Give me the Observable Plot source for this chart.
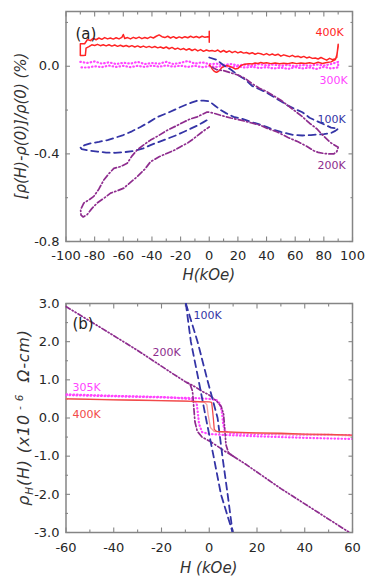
<!DOCTYPE html>
<html><head><meta charset="utf-8">
<script src="https://cdn.jsdelivr.net/npm/d3@7"></script>
<script src="https://cdn.jsdelivr.net/npm/@observablehq/plot@0.6"></script>
<style>
body{margin:0;background:#fff;}
#chart{width:374px;}
#chart svg{display:block;}
</style></head><body><div id="chart"></div>
<script>
// ---------- Panel (a): magnetoresistance [rho(H)-rho(0)]/rho(0) (%) vs H (kOe) ----------
const mr400K = [[0,0.005],[1,0.0],[2,-0.012],[3,-0.02],[4,-0.025],[5,-0.027],[6,-0.025],[7,-0.02],[8,-0.012],[9,-0.005],[10,-0.002],[12,0.003],[14,0.0],[16,-0.005],[18,-0.012],[20,-0.01],[22,0.003],[24,0.008],[26,0.01],[28,0.012],[30,0.01],[32,0.015],[34,0.013],[36,0.017],[38,0.014],[40,0.016],[43,0.012],[46,0.015],[49,0.011],[52,0.014],[55,0.012],[58,0.016],[61,0.012],[64,0.015],[67,0.013],[70,0.016],[73,0.012],[76,0.018],[79,0.013],[82,0.017],[85,0.02],[88,0.03],[89,0.05],[90,0.09],[90,0.1],[89.5,0.07],[89,0.04],
  [88,0.035],[86,0.03],[84,0.036],[82,0.028],[80,0.034],[78,0.04],[76,0.033],[74,0.038],[72,0.036],[70,0.042],[68,0.038],[66,0.045],[64,0.04],[62,0.046],[60,0.043],[58,0.05],[56,0.044],[54,0.048],[52,0.052],[50,0.046],[48,0.055],[46,0.05],[44,0.056],[42,0.051],[40,0.058],[38,0.052],[36,0.057],[34,0.06],[32,0.055],[30,0.062],[28,0.057],[26,0.063],[24,0.06],[22,0.066],[20,0.061],[18,0.068],[16,0.062],[14,0.07],[12,0.064],[10,0.072],[8,0.065],[6,0.074],[4,0.068],[2,0.072],[0,0.07],
  [-2,0.074],[-4,0.068],[-6,0.076],[-8,0.07],[-10,0.078],[-12,0.072],[-14,0.08],[-16,0.074],[-18,0.081],[-20,0.076],[-22,0.083],[-24,0.078],[-26,0.086],[-28,0.08],[-30,0.088],[-32,0.082],[-34,0.088],[-36,0.084],[-38,0.09],[-40,0.085],[-42,0.091],[-44,0.086],[-46,0.092],[-48,0.087],[-50,0.093],[-52,0.088],[-54,0.094],[-56,0.089],[-58,0.095],[-60,0.09],[-62,0.096],[-64,0.091],[-66,0.097],[-68,0.092],[-70,0.098],[-72,0.093],[-74,0.098],[-76,0.094],[-78,0.1],[-80,0.095],[-82,0.098],[-84,0.09],[-86,0.083],[-86.5,0.05],[-88,0.049],[-90,0.049],[-90,0.103],[-87,0.103],
  [-85,0.122],[-83,0.117],[-81,0.127],[-79,0.121],[-77,0.129],[-75,0.123],[-73,0.131],[-71,0.125],[-69,0.129],[-67,0.124],[-65,0.13],[-63,0.125],[-61,0.132],[-60,0.145],[-59,0.127],[-57,0.131],[-55,0.125],[-53,0.132],[-51,0.127],[-49,0.133],[-47,0.126],[-45,0.131],[-43,0.127],[-41,0.134],[-39,0.129],[-37,0.137],[-35,0.143],[-33,0.135],[-31,0.131],[-29,0.137],[-27,0.129],[-25,0.135],[-23,0.128],[-21,0.134],[-19,0.129],[-17,0.135],[-15,0.13],[-13,0.137],[-11,0.131],[-9,0.136],[-7,0.13],[-5,0.137],[-3,0.132],[-1,0.135],[0,0.132],[0,0.16],[0,0.11]];
const mr300K = [[-90,0.02],[-85,0.015],[-80,0.022],[-75,0.012],[-70,0.018],[-65,0.01],[-60,0.016],[-55,0.012],[-50,0.02],[-45,0.01],[-40,0.015],[-35,0.012],[-30,0.02],[-25,0.01],[-20,0.016],[-15,0.024],[-10,0.012],[-5,0.018],[0,0.01],[5,0.012],[10,0.006],[15,0.01],[20,0.004],[25,0.008],[30,0.003],[35,0.01],[40,0.004],[45,0.008],[50,0.002],[55,0.006],[60,0.0],[65,0.006],[70,0.002],[75,0.008],[80,0.003],[85,0.01],[90,0.02],
  [90,-0.005],[85,-0.01],[80,-0.003],[75,-0.012],[70,-0.006],[65,-0.01],[60,-0.004],[55,-0.012],[50,-0.006],[45,-0.01],[40,-0.004],[35,-0.008],[30,-0.002],[25,-0.006],[20,0.0],[15,-0.004],[10,0.002],[5,-0.003],[0,0.0],[-5,-0.004],[-10,0.002],[-15,-0.003],[-20,0.003],[-25,-0.002],[-30,0.004],[-35,-0.002],[-40,0.003],[-45,-0.003],[-50,0.002],[-55,-0.004],[-60,0.002],[-65,-0.003],[-70,0.003],[-75,-0.004],[-80,0.0],[-85,-0.006],[-90,-0.005]];
const mr100K = [[0,0.04],[5,0.03],[10,0.005],[15,-0.015],[20,-0.04],[25,-0.06],[30,-0.09],[35,-0.105],[40,-0.12],[45,-0.14],[50,-0.16],[55,-0.18],[60,-0.195],[65,-0.21],[70,-0.235],[75,-0.25],[80,-0.265],[85,-0.28],[90,-0.285],
  [88,-0.295],[85,-0.305],[80,-0.31],[71,-0.314],[65,-0.316],[59,-0.314],[50,-0.3],[45,-0.29],[40,-0.277],[35,-0.265],[29,-0.254],[23,-0.24],[17,-0.231],[12,-0.215],[8,-0.2],[4,-0.18],[0,-0.16],[-4,-0.157],[-8,-0.156],[-12,-0.165],[-16,-0.175],[-20,-0.186],[-28,-0.21],[-36,-0.231],[-42,-0.255],[-48,-0.277],[-54,-0.297],[-60,-0.314],[-66,-0.327],[-71,-0.337],[-77,-0.345],[-83,-0.352],[-87,-0.36],[-90,-0.37],
  [-89,-0.378],[-84,-0.385],[-78,-0.39],[-72,-0.394],[-66,-0.395],[-59,-0.392],[-52,-0.386],[-46,-0.375],[-41,-0.36],[-35,-0.345],[-29,-0.33],[-23,-0.315],[-18,-0.3],[-13,-0.285],[-8,-0.27],[-4,-0.255],[0,-0.24]];
const mr200K = [[2,-0.005],[5,-0.015],[10,-0.02],[15,-0.03],[20,-0.04],[25,-0.055],[30,-0.08],[35,-0.1],[40,-0.115],[45,-0.135],[50,-0.155],[55,-0.18],[60,-0.205],[65,-0.23],[70,-0.26],[75,-0.285],[80,-0.32],[85,-0.35],[90,-0.37],[89,-0.39],[87,-0.4],[83,-0.4],[80,-0.398],[76,-0.393],[73,-0.386],[68,-0.365],[62,-0.345],[55,-0.325],[47.5,-0.3],[41,-0.285],[36,-0.27],[29,-0.258],[22,-0.246],[15,-0.236],[8,-0.224],[3,-0.214],[0,-0.21],[-1.5,-0.209],[-5,-0.22],[-8.4,-0.231],[-13,-0.24],[-17.7,-0.254],[-23,-0.272],[-29.3,-0.292],[-35,-0.315],[-41,-0.337],[-46,-0.36],[-50.3,-0.382],[-54,-0.41],[-57.3,-0.443],[-61.9,-0.458],[-66.6,-0.466],[-70,-0.49],[-73.6,-0.519],[-77,-0.56],[-80.6,-0.594],[-84,-0.61],[-87.5,-0.624],[-89.8,-0.655],[-89.5,-0.68],[-88,-0.688],[-85.2,-0.677],[-82,-0.65],[-78.2,-0.624],[-73,-0.6],[-68.9,-0.579],[-64,-0.568],[-59.6,-0.556],[-55,-0.53],[-50.3,-0.504],[-45,-0.47],[-41,-0.436],[-35,-0.413],[-29.3,-0.397],[-24,-0.382],[-20,-0.367],[-15,-0.35],[-10.8,-0.33],[-5,-0.3],[0,-0.277]];
const labelsA = ["400K", "300K", "100K", "200K"];
const ticksAxMajor = [-100,-80,-60,-40,-20,0,20,40,60,80,100];
const ticksAxMinor = [-90,-70,-50,-30,-10,10,30,50,70,90];
const ticksAyMajor = [-0.8,-0.4,0.0];
const ticksAyMinor = [-0.6,-0.2,0.2];

// ---------- Panel (b): Hall resistivity rho_H (x10^-6 Ohm-cm) vs H (kOe) ----------
const hall400Kup = [[-60,0.5],[-50,0.49],[-40,0.475],[-30,0.465],[-20,0.455],[-10,0.44],[-4,0.43],[0,0.42],[1,0.41],[1.3,0.25],[1.7,0.0],[2.1,-0.3],[3,-0.35],[10,-0.37],[20,-0.39],[30,-0.4],[40,-0.42],[50,-0.43],[60,-0.45]];
const hall400Kdown = [[60,-0.46],[45,-0.44],[30,-0.42],[15,-0.39],[5,-0.37],[2,-0.35],[0.5,-0.25],[-0.5,0.1],[-1,0.35],[-2,0.41],[-10,0.44],[-30,0.47],[-60,0.51]];
const hall305Kup = [[-60,0.6],[-40,0.57],[-20,0.54],[-5,0.52],[0,0.5],[3,0.47],[4.5,0.38],[5.3,0.15],[5.8,-0.15],[6.5,-0.33],[8,-0.39],[12,-0.41],[30,-0.43],[60,-0.45]];
const hall305Kdown = [[60,-0.55],[40,-0.52],[20,-0.48],[5,-0.44],[0,-0.42],[-3,-0.37],[-4.3,-0.15],[-4.8,0.15],[-5.3,0.4],[-8,0.5],[-20,0.55],[-40,0.58],[-60,0.62]];
const hall200Kdown = [[10,-1.0],[6,-0.85],[3,-0.72],[0,-0.6],[-3,-0.5],[-5,-0.35],[-6,-0.1],[-6.5,0.3],[-7,0.7],[-8,0.88],[-10,0.95]];
const hall200Kup = [[-60,2.92],[-45,2.35],[-30,1.77],[-15,1.15],[-10,0.95],[-6,0.82],[-3,0.7],[0,0.6],[3,0.45],[5,0.3],[6,0.1],[6.5,-0.3],[7,-0.7],[8,-0.9],[10,-1.0],[15,-1.2],[30,-1.85],[45,-2.45],[60,-3.05]];
const hall100KL = [[-9.8,3.0],[-7.7,2.0],[-4.5,1.0],[-1.4,0.0],[1.8,-1.0],[4.9,-2.0],[9.8,-3.0]];
const hall100KR = [[-9.8,3.0],[-4.9,2.0],[-0.8,1.0],[3.5,0.0],[5.5,-1.0],[7.7,-2.0],[9.8,-3.0]];
const labelsB = ["100K", "200K", "305K", "400K"];
const ticksBxMajor = [-60,-40,-20,0,20,40,60];
const ticksBxMinor = [-50,-30,-10,10,30,50];
const ticksByMajor = [-3,-2,-1,0,1,2,3];
const ticksByMinor = [-2.5,-1.5,-0.5,0.5,1.5,2.5];

// ---------- helpers ----------
const rows = a => a.map(([H, v]) => ({H, v}));
const ink = "#262626", frameCol = "#858585";
const font = "'DejaVu Sans', sans-serif";
const fmt1 = d => d.toFixed(1);
const fmt0 = d => String(d);

function frameMarks({xMajor, xMinor, yMajor, yMinor, xFmt, yFmt, xPad}) {
  const tk = (axis, data, anchor, size) => axis(data, {anchor, tickSize: size, stroke: frameCol, strokeWidth: 1.1, fill: "none", label: null});
  return [
    ...["bottom","top"].flatMap(a => [tk(Plot.axisX, xMajor, a, -4.5), tk(Plot.axisX, xMinor, a, -2.5)]),
    ...["left","right"].flatMap(a => [tk(Plot.axisY, yMajor, a, -4.5), tk(Plot.axisY, yMinor, a, -2.5)]),
    Plot.frame({stroke: frameCol, strokeWidth: 1.5}),
    Plot.axisX(xMajor, {anchor: "bottom", tickSize: 0, tickPadding: xPad, tickFormat: xFmt, label: null, fill: ink, fontSize: 13}),
    Plot.axisY(yMajor, {anchor: "left", tickSize: 0, tickPadding: 6.5, tickFormat: yFmt, label: null, fill: ink, fontSize: 13})
  ];
}
const lbl = (t, fill, frameAnchor, dx, dy, textAnchor, size) =>
  Plot.text([t], {frameAnchor, dx, dy, textAnchor, lineAnchor: "bottom", fill, fontSize: size, fontFamily: font});

const red = "#ff2424", mag = "#ff45ff", blue = "#3434a6", purple = "#8e2c8e";
const dotted = {strokeDasharray: "0.5,3", strokeLinecap: "round", strokeWidth: 2.2};
const dashed = {strokeDasharray: "7,4.5", strokeWidth: 1.8};
const dashdot = {strokeDasharray: "6,2.5,1.2,2.5", strokeWidth: 1.7};

// ---------- panel (a) ----------
const svgA = Plot.plot({
  width: 374, height: 292, marginLeft: 65.5, marginRight: 22, marginTop: 11, marginBottom: 51,
  x: {domain: [-100, 100], axis: null},
  y: {domain: [-0.8, 0.25], axis: null},
  style: {fontFamily: font, fontSize: "13px", background: "white", overflow: "visible"},
  marks: [
    ...frameMarks({xMajor: ticksAxMajor, xMinor: ticksAxMinor, yMajor: ticksAyMajor, yMinor: ticksAyMinor, xFmt: fmt0, yFmt: fmt1, xPad: 9.5}),
    Plot.line(rows(mr300K), {x: "H", y: "v", stroke: mag, ...dotted}),
    Plot.line(rows(mr400K), {x: "H", y: "v", stroke: red, strokeWidth: 1.5}),
    Plot.line(rows(mr100K), {x: "H", y: "v", stroke: blue, ...dashed}),
    Plot.line(rows(mr200K), {x: "H", y: "v", stroke: purple, ...dashdot}),
    lbl("(a)", "#222", "top-left", 9.5, 27, "start", 15),
    lbl(labelsA[0], red, "top-right", -23, 24, "middle", 11),
    lbl(labelsA[1], mag, "top-right", -19, 72, "middle", 11),
    lbl(labelsA[2], blue, "top-right", -21, 111, "middle", 11),
    lbl(labelsA[3], purple, "top-right", -21, 157, "middle", 11)
  ]
});

// ---------- panel (b) ----------
const svgB = Plot.plot({
  width: 374, height: 290, marginLeft: 65.5, marginRight: 22, marginTop: 11, marginBottom: 50,
  x: {domain: [-60, 60], axis: null},
  y: {domain: [-3, 3], axis: null},
  style: {fontFamily: font, fontSize: "13px", background: "white", overflow: "visible"},
  marks: [
    ...frameMarks({xMajor: ticksBxMajor, xMinor: ticksBxMinor, yMajor: ticksByMajor, yMinor: ticksByMinor, xFmt: fmt0, yFmt: fmt1, xPad: 10.5}),
    Plot.line(rows(hall305Kup), {x: "H", y: "v", stroke: mag, ...dotted, clip: true}),
    Plot.line(rows(hall305Kdown), {x: "H", y: "v", stroke: mag, ...dotted, clip: true}),
    Plot.line(rows(hall200Kup), {x: "H", y: "v", stroke: purple, ...dashdot, strokeDasharray: "5,2.2,1.2,2.2,1.2,2.2", clip: true}),
    Plot.line(rows(hall200Kdown), {x: "H", y: "v", stroke: purple, ...dashdot, clip: true}),
    Plot.line(rows(hall100KL), {x: "H", y: "v", stroke: blue, ...dashed, clip: true}),
    Plot.line(rows(hall100KR), {x: "H", y: "v", stroke: blue, ...dashed, clip: true}),
    Plot.line(rows(hall400Kdown), {x: "H", y: "v", stroke: "#f6a0a0", strokeWidth: 1.3, clip: true}),
    Plot.line(rows(hall400Kup), {x: "H", y: "v", stroke: "#f24a4a", strokeWidth: 1.3, clip: true}),
    lbl("(b)", "#222", "top-left", 6.5, 25, "start", 15),
    lbl(labelsB[0], blue, "top-left", 127.5, 15, "start", 11),
    lbl(labelsB[1], purple, "top-left", 86.5, 52, "start", 11),
    lbl(labelsB[2], mag, "top-left", 6.5, 87, "start", 11),
    lbl(labelsB[3], "#f24a4a", "top-left", 6.5, 114, "start", 11)
  ]
});

// ---------- axis titles (rich text) ----------
function titleX(svg, y, txt) {
  const xs = svg.scale("x");
  d3.select(svg).append("text")
    .attr("x", (xs.range[0] + xs.range[1]) / 2).attr("y", y)
    .attr("text-anchor", "middle").attr("font-style", "italic")
    .attr("font-size", 15).attr("fill", "#333").attr("font-family", font)
    .text(txt);
}
function titleY(svg, x, parts, size, spacing) {
  const ys = svg.scale("y");
  const t = d3.select(svg).append("text")
    .attr("transform", `translate(${x},${(ys.range[0] + ys.range[1]) / 2}) rotate(-90)`)
    .attr("text-anchor", "middle").attr("font-style", "italic")
    .attr("font-size", size).attr("letter-spacing", spacing).attr("fill", "#333").attr("font-family", font);
  parts.forEach(p => {
    const s = t.append("tspan").text(p.t);
    if (p.size) s.attr("font-size", p.size);
    if (p.dy) s.attr("dy", p.dy);
  });
}
titleX(svgA, 280, "H(kOe)");
titleY(svgA, 26, [{t: "[ρ(H)-ρ(0)]/ρ(0) (%)"}], 15, 0);
titleX(svgB, 281, "H (kOe)");
titleY(svgB, 29, [{t: "ρ"}, {t: "H", size: 10.5, dy: 4}, {t: "(H) (x10", size: 16, dy: -4}, {t: " - 6", size: 10.5, dy: -6}, {t: "  Ω-cm)", size: 16, dy: 6}], 16, 0.8);

document.getElementById("chart").append(svgA, svgB);
</script>
</body></html>
